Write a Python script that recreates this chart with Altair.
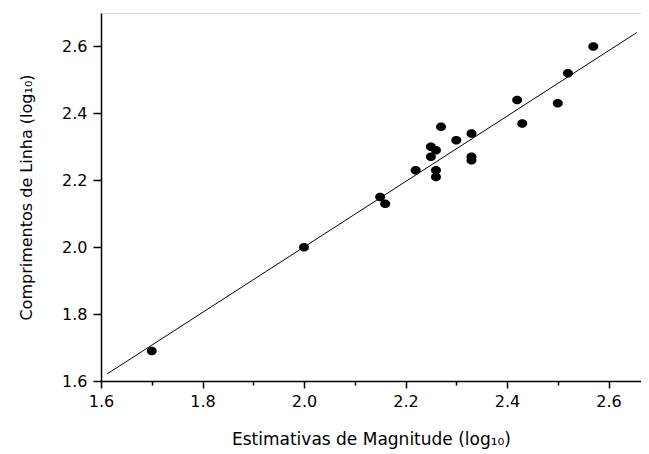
import altair as alt
import pandas as pd

# Observed data (log10)
magnitude = [1.70, 2.00, 2.15, 2.16, 2.22, 2.25, 2.26, 2.25, 2.26, 2.26,
             2.27, 2.30, 2.33, 2.33, 2.33, 2.42, 2.43, 2.50, 2.52, 2.57]
comprimento = [1.69, 2.00, 2.15, 2.13, 2.23, 2.30, 2.29, 2.27, 2.23, 2.21,
               2.36, 2.32, 2.34, 2.27, 2.26, 2.44, 2.37, 2.43, 2.52, 2.60]

# Fitted line endpoints
fit_x = [1.612, 2.656]
fit_y = [1.621, 2.642]

tick_values = [1.6, 1.7, 1.8, 1.9, 2.0, 2.1, 2.2, 2.3, 2.4, 2.5, 2.6, 2.7]

pts = pd.DataFrame({"x": magnitude, "y": comprimento})
fit = pd.DataFrame({"x": fit_x, "y": fit_y})

FONT = "DejaVu Sans"
major_test = "round(datum.value*10) % 2 == 0"
label_expr = f"{major_test} ? format(datum.value, '.1f') : ''"

x_axis = alt.Axis(
    values=tick_values[:-1],
    labelExpr=label_expr,
    tickSize={"condition": {"test": major_test, "value": 7}, "value": 4},
    grid=False,
    domainColor="black", tickColor="black", domainWidth=1.5, tickWidth=1.5,
    labelColor="black", labelFont=FONT, labelFontSize=16, labelPadding=5,
    labelFlush=False, labelOverlap=False,
    title="Estimativas de Magnitude (log₁₀)",
    titleFont=FONT, titleFontSize=17, titleFontWeight="normal",
    titleColor="black", titlePadding=22,
)
y_axis = alt.Axis(
    values=tick_values,
    labelExpr=label_expr,
    tickSize={"condition": {"test": major_test, "value": 8}, "value": 5},
    grid=False,
    domainColor="black", tickColor="black", domainWidth=1.5, tickWidth=1.5,
    labelColor="black", labelFont=FONT, labelFontSize=16, labelPadding=6,
    labelFlush=False, labelOverlap=False,
    title="Comprimentos de Linha (log₁₀)",
    titleFont=FONT, titleFontSize=16, titleFontWeight="normal",
    titleColor="black", titlePadding=27,
)

xs = alt.Scale(domain=[1.6, 2.664], nice=False, zero=False)
ys = alt.Scale(domain=[1.6, 2.7], nice=False, zero=False)

ellipse = "M-1,0A1,0.85,0,1,1,1,0A1,0.85,0,1,1,-1,0Z"

line = alt.Chart(fit).mark_line(color="black", strokeWidth=1, clip=True).encode(
    x=alt.X("x:Q", scale=xs, axis=x_axis),
    y=alt.Y("y:Q", scale=ys, axis=y_axis),
)
points = alt.Chart(pts).mark_point(
    shape=ellipse, filled=True, color="black", opacity=1, size=100
).encode(
    x=alt.X("x:Q", scale=xs),
    y=alt.Y("y:Q", scale=ys),
)

chart = (line + points).properties(
    width=540, height=368,
    autosize=alt.AutoSizeParams(type="none"),
    padding={"left": 93, "top": 5, "right": 0, "bottom": 73},
).configure_view(stroke=None).configure(background="white")

chart.save("out.html", embed_options={"renderer": "svg", "actions": False})
